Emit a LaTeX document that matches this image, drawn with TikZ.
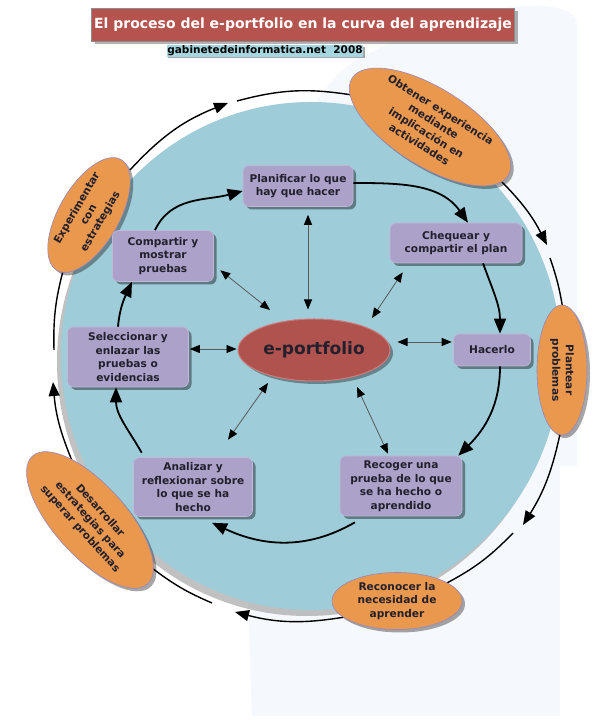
\documentclass[tikz,border=0pt]{standalone}
\usepackage{fontspec}
\setmainfont{DejaVu Sans}
\usetikzlibrary{arrows.meta,shapes.geometric,shadows}
\definecolor{circc}{RGB}{158,204,217}
\definecolor{boxc}{RGB}{171,161,201}
\definecolor{boxb}{RGB}{192,184,216}
\definecolor{orc}{RGB}{233,152,78}
\definecolor{orb}{RGB}{150,135,190}
\definecolor{epc}{RGB}{176,82,78}
\definecolor{epb}{RGB}{205,125,125}
\definecolor{titc}{RGB}{181,83,79}
\definecolor{subc}{RGB}{166,214,223}
\definecolor{txt}{RGB}{35,32,45}
\definecolor{faintc}{RGB}{245,248,252}
\newcommand{\bxf}{\fontsize{10.6}{13.5}\selectfont\bfseries}
\begin{document}
\begin{tikzpicture}[x=1pt,y=1pt,
  stepbox/.style={rectangle, rounded corners=6pt, fill=boxc, draw=boxb, line width=0.6pt,
    align=center, font=\bxf, text=txt, inner sep=2pt,
    drop shadow={shadow xshift=3pt, shadow yshift=-3pt, opacity=0.4, fill=black}},
  orng/.style={ellipse, fill=orc, draw=orb, line width=0.6pt, align=center, font=\bxf,
    text=txt, inner sep=0pt,
    drop shadow={shadow xshift=3pt, shadow yshift=-3pt, opacity=0.35, fill=black}},
  ring/.style={line width=1.4pt, black},
  ringarrow/.style={ring, -{Triangle[length=14pt,width=11pt]}},
  flow/.style={line width=1.8pt, black, -{Triangle[length=15pt,width=12pt]}},
  dbl/.style={line width=0.8pt, draw=black!65,
    {Triangle[length=10pt,width=8pt,color=black]}-{Triangle[length=10pt,width=8pt,color=black]}}
]
\useasboundingbox (0,0) rectangle (610,720);
\fill[white] (0,0) rectangle (610,720);
% faint background
\fill[faintc] (252,4) .. controls (240,300) and (250,600) .. (360,662)
  .. controls (430,700) and (500,716) .. (540,714)
  .. controls (565,713) and (577,706) .. (577,695) -- (577,254) -- (560,254) -- (560,4) -- cycle;
% big circle
\fill[black!40, opacity=0.6] (307,358) ellipse [x radius=250, y radius=254];
\fill[circc] (311,364) ellipse [x radius=250, y radius=254];

% ring coordinates
\coordinate (etop) at (130,550);
\coordinate (t1) at (228,617);
\coordinate (g1) at (237,619);
\coordinate (oleft) at (352,625);
\coordinate (oright) at (500,540);
\coordinate (t2) at (547,475);
\coordinate (g2) at (550,462);
\coordinate (ptop) at (563,410);
\coordinate (pbot) at (560,286);
\coordinate (t3) at (523,195);
\coordinate (g3) at (513,187);
\coordinate (rright) at (445,136);
\coordinate (rleft) at (345,103);
\coordinate (t4) at (235,108);
\coordinate (g4) at (212,117);
\coordinate (dright) at (152,152);
\coordinate (dtop) at (73,257);
\coordinate (t5) at (53,338);
\coordinate (g5) at (54,370);
\coordinate (ebot) at (63,449);

\draw[ringarrow] (etop) to[bend left=13] (t1);
\draw[ring] (g1) to[bend left=12] (oleft);
\draw[ringarrow] (oright) to[bend left=9] (t2);
\draw[ring] (g2) to[bend left=5] (ptop);
\draw[ringarrow] (pbot) to[bend left=10] (t3);
\draw[ring] (g3) to[bend left=9] (rright);
\draw[ringarrow] (rleft) to[bend left=12] (t4);
\draw[ring] (g4) to[bend left=7] (dright);
\draw[ringarrow] (dtop) to[bend left=9] (t5);
\draw[ring] (g5) to[bend left=8] (ebot);

% orange ellipses
\node[orng, minimum width=128, minimum height=60, rotate=60] (exp) at (89,505) {Experimentar\\con\\estrategias};
\node[orng, minimum width=184, minimum height=78, rotate=-32] (obt) at (430,593) {Obtener experiencia\\mediante\\implicación en\\actividades};
\node[orng, minimum width=130, minimum height=50, rotate=-90] (pla) at (562,350) {Plantear\\problemas};
\node[orng, minimum width=130, minimum height=57] (rec2) at (397,119) {Reconocer la\\necesidad de\\aprender};
\node[orng, minimum width=172, minimum height=72, rotate=-48] (des) at (90,200) {Desarrollar\\estrategias para\\superar problemas};

% title
\node[rectangle, fill=titc, draw=black!45, line width=0.6pt, minimum width=423, minimum height=33,
  text=white, font=\fontsize{14}{16}\selectfont\bfseries, inner sep=0pt,
  drop shadow={shadow xshift=3pt, shadow yshift=-3pt, opacity=0.3, fill=black}] (title) at (303,695)
  {El proceso del e-portfolio en la curva del aprendizaje};
\node[rectangle, fill=subc, inner sep=0.8pt, text=black, font=\fontsize{10.5}{12}\selectfont\bfseries,
  drop shadow={shadow xshift=1.5pt, shadow yshift=-1.5pt, opacity=0.35, fill=black}] (sub) at (265,669)
  {gabinetedeinformatica.net\ \ 2008};

% process boxes
\node[stepbox, minimum width=110, minimum height=41] (plan) at (298,534) {Planificar lo que\\hay que hacer};
\node[stepbox, minimum width=132, minimum height=40] (cheq) at (456,477) {Chequear y\\compartir el plan};
\node[stepbox, minimum width=77, minimum height=32] (hacer) at (492,370) {Hacerlo};
\node[stepbox, minimum width=122, minimum height=60] (rec) at (401,234) {Recoger una\\prueba de lo que\\se ha hecho o\\aprendido};
\node[stepbox, minimum width=119, minimum height=59] (anal) at (193,233) {Analizar y\\reflexionar sobre\\lo que se ha\\hecho};
\node[stepbox, minimum width=121, minimum height=60] (sel) at (128,363) {Seleccionar y\\enlazar las\\pruebas o\\evidencias};
\node[stepbox, minimum width=101, minimum height=51] (comp) at (163,464) {Compartir y\\mostrar\\pruebas};

% e-portfolio
\node[ellipse, fill=epc, draw=epb, line width=1pt, minimum width=152, minimum height=62,
  font=\fontsize{17}{20}\selectfont\bfseries, text=txt, inner sep=0pt,
  drop shadow={shadow xshift=3pt, shadow yshift=-3pt, opacity=0.35, fill=black}] (ep) at (314,370) {e-portfolio};

% cycle connectors
\draw[flow] ([xshift=-8pt]comp.north) to[out=65,in=195] ([yshift=-5pt]plan.west);
\draw[flow] ([yshift=3pt]plan.east) to[out=0,in=125] ([xshift=12pt]cheq.north);
\draw[flow] ([xshift=27pt]cheq.south) to[out=-70,in=90] ([xshift=8pt]hacer.north);
\draw[flow] ([xshift=8pt]hacer.south) to[out=-90,in=45] ([shift={(-4,0)}]rec.north east);
\draw[flow] ([shift={(-46,-6)}]rec.south) to[out=-150,in=-25] ([shift={(19,-6)}]anal.south);
\draw[flow] ([shift={(8.5,4.5)}]anal.north west) to[out=120,in=-90] ([xshift=-12pt]sel.south);
\draw[flow] ([xshift=-10pt]sel.north) to[out=85,in=-115] ([xshift=-31pt]comp.south);

% double arrows to e-portfolio
\draw[dbl] ([shift={(10,-8)}]plan.south) -- ([shift={(-6,9)}]ep.north);
\draw[dbl] ([shift={(6.5,11.5)}]comp.south east) -- ([shift={(-44,40)}]ep.center);
\draw[dbl] ([shift={(1,8)}]sel.east) -- ([shift={(-1,1)}]ep.west);
\draw[dbl] ([shift={(13,-9)}]cheq.south west) -- ([shift={(58,32)}]ep.center);
\draw[dbl] ([shift={(-1.5,8)}]hacer.west) -- ([shift={(7,8)}]ep.east);
\draw[dbl] ([shift={(35,17.5)}]anal.north) -- ([shift={(-46,-33)}]ep.center);
\draw[dbl] ([shift={(-13,2)}]rec.north) -- ([shift={(43,-37)}]ep.center);
\end{tikzpicture}
\end{document}
